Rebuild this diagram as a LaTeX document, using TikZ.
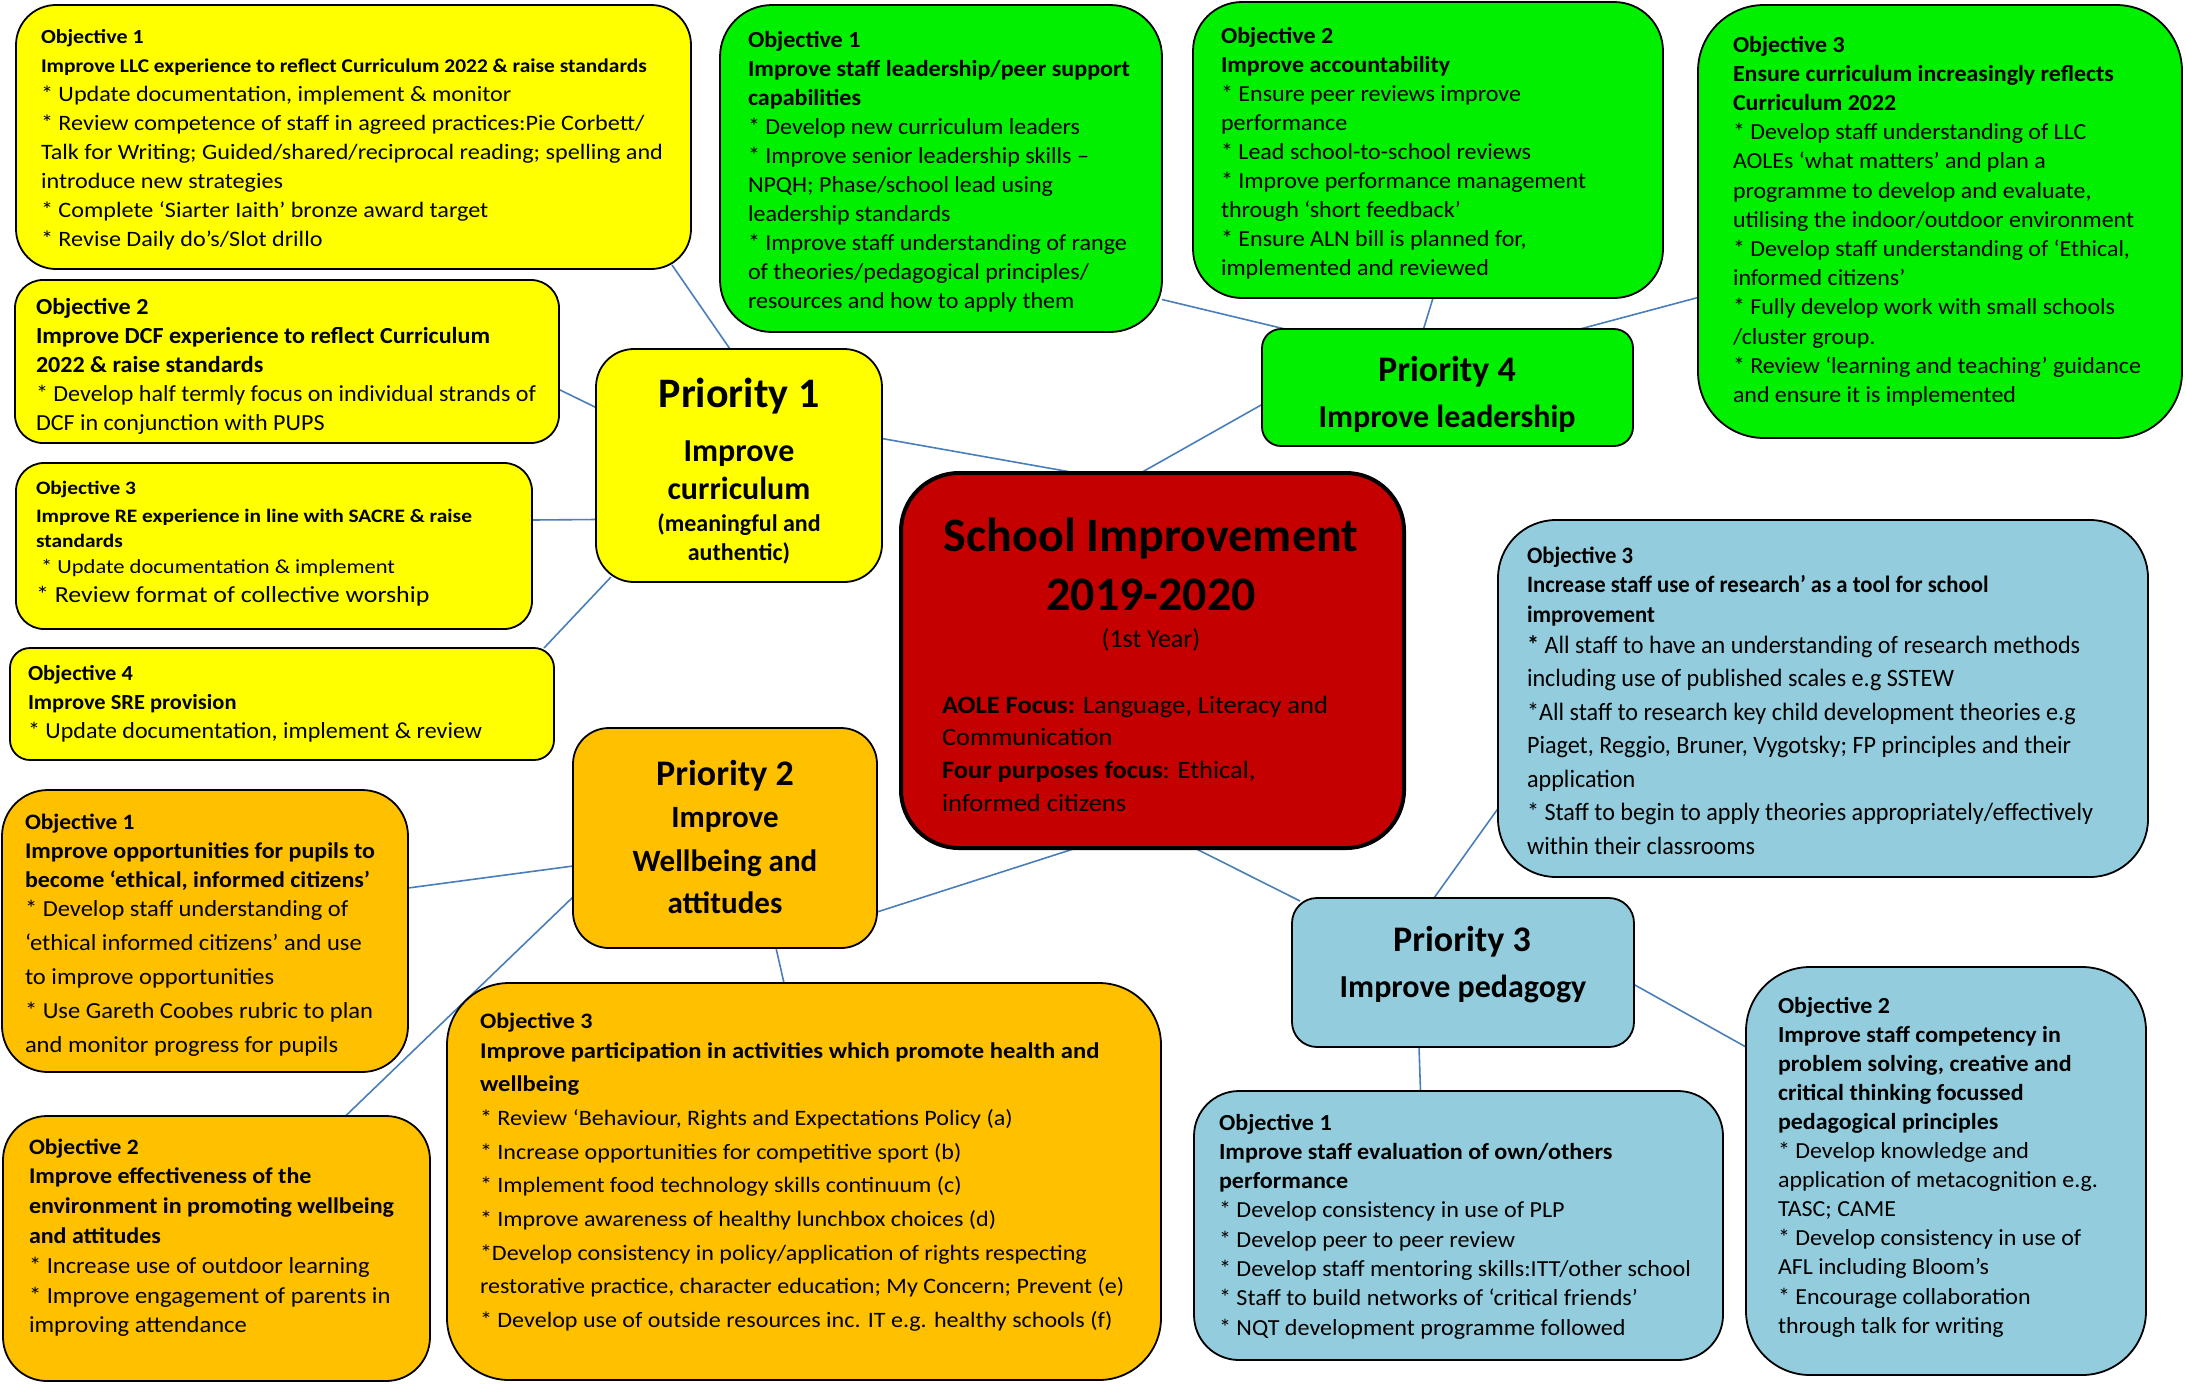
\documentclass[tikz,border=0pt]{standalone}
\usepackage{fontspec}
\setmainfont{Carlito}
\usepackage{graphicx}
\pgfdeclarelayer{bg}
\pgfsetlayers{bg,main}
\definecolor{cyel}{HTML}{FFFF00}
\definecolor{cgrn}{HTML}{00F000}
\definecolor{corg}{HTML}{FFC000}
\definecolor{cblu}{HTML}{93CDDD}
\definecolor{cred}{HTML}{C40000}
\definecolor{clin}{HTML}{4A7EBB}
\newcommand\tb[4]{\resizebox{#1pt}{\height}{\fontsize{#2pt}{#3pt}\selectfont\begin{tabular}[t]{@{}l@{}}#4\end{tabular}}}
\newcommand\hb[2]{{\fontsize{#1pt}{#1pt}\selectfont\bfseries #2}}
\newcommand\rg[2]{{\fontsize{#1pt}{#1pt}\selectfont #2}}
\begin{document}
\begin{tikzpicture}[x=1pt,y=-1pt,
  obox/.style={draw=black, line width=1.8pt, anchor=north west, inner sep=0pt, outer sep=0pt},
  conn/.style={draw=clin, line width=1.6pt},
  txt/.style={anchor=base west, inner sep=0pt, outer sep=0pt},
  ptxt/.style={anchor=base, inner sep=0pt, outer sep=0pt}]
\useasboundingbox (0,0) rectangle (2186,1385);

% ---------- boxes ----------
\node[obox, fill=cyel, minimum width=675pt, minimum height=264pt, rounded corners=40pt] (y1) at (16,5) {};
\node[obox, fill=cyel, minimum width=544pt, minimum height=163pt, rounded corners=28pt] (y2) at (15,280) {};
\node[obox, fill=cyel, minimum width=516pt, minimum height=166pt, rounded corners=28pt] (y3) at (16,463) {};
\node[obox, fill=cyel, minimum width=544pt, minimum height=112pt, rounded corners=20pt] (y4) at (10,648) {};
\node[obox, fill=cyel, minimum width=286pt, minimum height=233pt, rounded corners=38pt] (p1) at (596,349) {};
\node[obox, fill=cred, line width=4pt, minimum width=503pt, minimum height=375pt, rounded corners=58pt] (c) at (901,473) {};
\node[obox, fill=cgrn, minimum width=442pt, minimum height=327pt, rounded corners=52pt] (g1) at (720,5) {};
\node[obox, fill=cgrn, minimum width=470pt, minimum height=296pt, rounded corners=49pt] (g2) at (1193,2) {};
\node[obox, fill=cgrn, minimum width=484pt, minimum height=433pt, rounded corners=66pt] (g3) at (1698,5) {};
\node[obox, fill=cgrn, minimum width=371pt, minimum height=117pt, rounded corners=19pt] (p4) at (1262,329) {};
\node[obox, fill=cblu, minimum width=650pt, minimum height=357pt, rounded corners=58pt] (b3) at (1498,520) {};
\node[obox, fill=cblu, minimum width=342pt, minimum height=149pt, rounded corners=25pt] (p3) at (1292,898) {};
\node[obox, fill=cblu, minimum width=529pt, minimum height=269pt, rounded corners=45pt] (b1) at (1194,1091) {};
\node[obox, fill=cblu, minimum width=400pt, minimum height=408pt, rounded corners=64pt] (b2) at (1746,967) {};
\node[obox, fill=corg, minimum width=304pt, minimum height=220pt, rounded corners=36pt] (p2) at (573,728) {};
\node[obox, fill=corg, minimum width=406pt, minimum height=282pt, rounded corners=46pt] (o1) at (2,790) {};
\node[obox, fill=corg, minimum width=427pt, minimum height=265pt, rounded corners=44pt] (o2) at (3,1116) {};
\node[obox, fill=corg, minimum width=714pt, minimum height=397pt, rounded corners=62pt] (o3) at (447,983) {};

% ---------- yellow texts ----------
\node[txt] (y1t) at (41,43) {\tb{622}{22}{29}{\hb{20}{Objective 1}\\
\hb{19.5}{Improve LLC experience to reflect Curriculum 2022 \& raise standards}\\
{*} Update documentation, implement \& monitor\\
{*} Review competence of staff in agreed practices:Pie Corbett/\\
Talk for Writing; Guided/shared/reciprocal reading; spelling and\\
introduce new strategies\\
{*} Complete ‘Siarter Iaith’ bronze award target\\
{*} Revise Daily do’s/Slot drillo}};

\node[txt] (y2t) at (36,314) {\tb{500}{23}{29.2}{\hb{23}{Objective 2}\\
\hb{23}{Improve DCF experience to reflect Curriculum}\\
\hb{23}{2022 \& raise standards}\\
{*} Develop half termly focus on individual strands of\\
DCF in conjunction with PUPS}};

\node[txt] (y3t) at (36,494) {\tb{436}{22}{25}{\hb{19}{Objective 3}\\[3pt]
\hb{19}{Improve RE experience in line with SACRE \& raise}\\
\hb{19}{standards}\\[1pt]
\rg{20}{\ {*} Update documentation \& implement}\\[4pt]
\rg{23}{{*} Review format of collective worship}}};

\node[txt] (y4t) at (28,680) {\tb{454}{23}{29}{\hb{21.5}{Objective 4}\\
\hb{21.5}{Improve SRE provision}\\
{*} Update documentation, implement \& review}};

% ---------- priority 1 ----------
\node[ptxt, font=\fontsize{42}{42}\selectfont\bfseries] (p1a) at (739,407) {Priority 1};
\node[ptxt, font=\fontsize{32}{32}\selectfont\bfseries] (p1b) at (739,461) {Improve};
\node[ptxt, font=\fontsize{32}{32}\selectfont\bfseries] (p1c) at (739,499) {curriculum};
\node[ptxt, font=\fontsize{24}{24}\selectfont\bfseries] (p1d) at (739,531) {(meaningful and};
\node[ptxt, font=\fontsize{24}{24}\selectfont\bfseries] (p1e) at (739,560) {authentic)};

% ---------- centre ----------
\node[ptxt, font=\fontsize{48}{48}\selectfont\bfseries] (ca) at (1151,551) {School Improvement};
\node[ptxt, font=\fontsize{48}{48}\selectfont\bfseries] (cb) at (1151,610) {2019-2020};
\node[ptxt, font=\fontsize{26}{26}\selectfont] (cc) at (1151,647) {(1st Year)};
\node[txt] (cd) at (942,713) {\tb{386}{25}{32.7}{\textbf{AOLE Focus:} Language, Literacy and\\
Communication\\
\textbf{Four purposes focus}: Ethical,\\
informed citizens}};

% ---------- green texts ----------
\node[txt] (g1t) at (748,47) {\tb{382}{23}{29.1}{\textbf{Objective 1}\\
\textbf{Improve staff leadership/peer support}\\
\textbf{capabilities}\\
{*} Develop new curriculum leaders\\
{*} Improve senior leadership skills –\\
NPQH; Phase/school lead using\\
leadership standards\\
{*} Improve staff understanding of range\\
of theories/pedagogical principles/\\
resources and how to apply them}};

\node[txt] (g2t) at (1221,43) {\tb{365}{23}{29.1}{\textbf{Objective 2}\\
\textbf{Improve accountability}\\
{*} Ensure peer reviews improve\\
performance\\
{*} Lead school-to-school reviews\\
{*} Improve performance management\\
through ‘short feedback’\\
{*} Ensure ALN bill is planned for,\\
implemented and reviewed}};

\node[txt] (g3t) at (1733,52) {\tb{408}{23}{29.2}{\textbf{Objective 3}\\
\textbf{Ensure curriculum increasingly reflects}\\
\textbf{Curriculum 2022}\\
{*} Develop staff understanding of LLC\\
AOLEs ‘what matters’ and plan a\\
programme to develop and evaluate,\\
utilising the indoor/outdoor environment\\
{*} Develop staff understanding of ‘Ethical,\\
informed citizens’\\
{*} Fully develop work with small schools\\
/cluster group.\\
{*} Review ‘learning and teaching’ guidance\\
and ensure it is implemented}};

% ---------- priority 4 ----------
\node[ptxt, font=\fontsize{36}{36}\selectfont\bfseries] (p4a) at (1447,381) {Priority 4};
\node[ptxt, font=\fontsize{32}{32}\selectfont\bfseries] (p4b) at (1447,427) {Improve leadership};

% ---------- blue texts ----------
\node[txt] (b3t) at (1527,563) {\tb{566}{25}{29.5}{\hb{23.5}{Objective 3}\\
\hb{23.5}{Increase staff use of research’ as a tool for school}\\
\hb{23.5}{improvement}\\[1.5pt]
\textbf{*} All staff to have an understanding of research methods\\[4pt]
including use of published scales e.g SSTEW\\[4pt]
{*}All staff to research key child development theories e.g\\[4pt]
Piaget, Reggio, Bruner, Vygotsky; FP principles and their\\[4pt]
application\\[4pt]
{*} Staff to begin to apply theories appropriately/effectively\\[4pt]
within their classrooms}};

\node[ptxt, font=\fontsize{36}{36}\selectfont\bfseries] (p3a) at (1462,951) {Priority 3};
\node[ptxt, font=\fontsize{32}{32}\selectfont\bfseries] (p3b) at (1463,997) {Improve pedagogy};

\node[txt] (b1t) at (1219,1130) {\tb{472}{23}{29.3}{\textbf{Objective 1}\\
\textbf{Improve staff evaluation of own/others}\\
\textbf{performance}\\
{*} Develop consistency in use of PLP\\
{*} Develop peer to peer review\\
{*} Develop staff mentoring skills:ITT/other school\\
{*} Staff to build networks of ‘critical friends’\\
{*} NQT development programme followed}};

\node[txt] (b2t) at (1778,1013) {\tb{320}{23}{29.1}{\textbf{Objective 2}\\
\textbf{Improve staff competency in}\\
\textbf{problem solving, creative and}\\
\textbf{critical thinking focussed}\\
\textbf{pedagogical principles}\\
{*} Develop knowledge and\\
application of metacognition e.g.\\
TASC; CAME\\
{*} Develop consistency in use of\\
AFL including Bloom’s\\
{*} Encourage collaboration\\
through talk for writing}};

% ---------- priority 2 ----------
\node[ptxt, font=\fontsize{36}{36}\selectfont\bfseries] (p2a) at (725,785) {Priority 2};
\node[ptxt, font=\fontsize{31}{31}\selectfont\bfseries] (p2b) at (725,827) {Improve};
\node[ptxt, font=\fontsize{31}{31}\selectfont\bfseries] (p2c) at (725,871) {Wellbeing and};
\node[ptxt, font=\fontsize{31}{31}\selectfont\bfseries] (p2d) at (725,913) {attitudes};

% ---------- orange texts ----------
\node[txt] (o1t) at (25,829) {\tb{350}{23}{29}{\hb{22}{Objective 1}\\
\hb{22.5}{Improve opportunities for pupils to}\\
\hb{22.5}{become ‘ethical, informed citizens’}\\
{*} Develop staff understanding of\\[5pt]
‘ethical informed citizens’ and use\\[5pt]
to improve opportunities\\[5pt]
{*} Use Gareth Coobes rubric to plan\\[5pt]
and monitor progress for pupils}};

\node[txt] (o2t) at (29,1154) {\tb{365}{23}{29.8}{\hb{22}{Objective 2}\\
\hb{22.5}{Improve effectiveness of the}\\
\hb{22.5}{environment in promoting wellbeing}\\
\hb{22.5}{and attitudes}\\
{*} Increase use of outdoor learning\\
{*} Improve engagement of parents in\\
improving attendance}};

\node[txt] (o3t) at (480,1028) {\tb{644}{22}{30}{\hb{22}{Objective 3}\\
\hb{22.5}{Improve participation in activities which promote health and}\\[3.7pt]
\hb{22.5}{wellbeing}\\[3.7pt]
{*} Review ‘Behaviour, Rights and Expectations Policy (a)\\[3.7pt]
{*} Increase opportunities for competitive sport (b)\\[3.7pt]
{*} Implement food technology skills continuum (c)\\[3.7pt]
{*} Improve awareness of healthy lunchbox choices (d)\\[3.7pt]
{*}Develop consistency in policy/application of rights respecting\\[3.7pt]
restorative practice, character education; My Concern; Prevent (e)\\[3.7pt]
{*} Develop use of outside resources inc. IT e.g. healthy schools (f)}};

% ---------- connectors ----------
\begin{pgfonlayer}{bg}
\fill[white] (0,0) rectangle (2186,1385);
\draw[conn] ([shift={(-19,-4)}]y1.south east) -- ([shift={(-9,0)}]p1.north);
\draw[conn] ([shift={(0,28)}]y2.east) -- ([shift={(0,-58)}]p1.west);
\draw[conn] ([shift={(0,-26)}]y3.east) -- ([shift={(0,54)}]p1.west);
\draw[conn] ([shift={(-10,0)}]y4.north east) -- ([shift={(15,-5)}]p1.south west);
\draw[conn] ([shift={(0,-27)}]p1.east) -- ([shift={(-76,0)}]c.north);
\draw[conn] ([shift={(0,17)}]p4.west) -- ([shift={(-12,0)}]c.north);
\draw[conn] ([shift={(0,131)}]g1.east) -- ([shift={(23,0)}]p4.north west);
\draw[conn] ([shift={(5,0)}]g2.south) -- ([shift={(-24,0)}]p4.north);
\draw[conn] ([shift={(0,76)}]g3.west) -- ([shift={(-53,0)}]p4.north east);
\draw[conn] ([shift={(-76,0)}]c.south) -- ([shift={(0,74)}]p2.east);
\draw[conn] ([shift={(42,0)}]c.south) -- ([shift={(8,3)}]p3.north west);
\draw[conn] ([shift={(0,110)}]b3.west) -- ([shift={(-29,0)}]p3.north);
\draw[conn] ([shift={(0,12)}]p3.east) -- ([shift={(0,-124)}]b2.west);
\draw[conn] ([shift={(-44,0)}]p3.south) -- ([shift={(-38,0)}]b1.north);
\draw[conn] ([shift={(0,-43)}]o1.east) -- ([shift={(0,28)}]p2.west);
\draw[conn] ([shift={(0,59)}]p2.west) -- ([shift={(129,0)}]o2.north);
\draw[conn] ([shift={(51,0)}]p2.south) -- ([shift={(-20,0)}]o3.north);
\end{pgfonlayer}
\end{tikzpicture}
\end{document}
